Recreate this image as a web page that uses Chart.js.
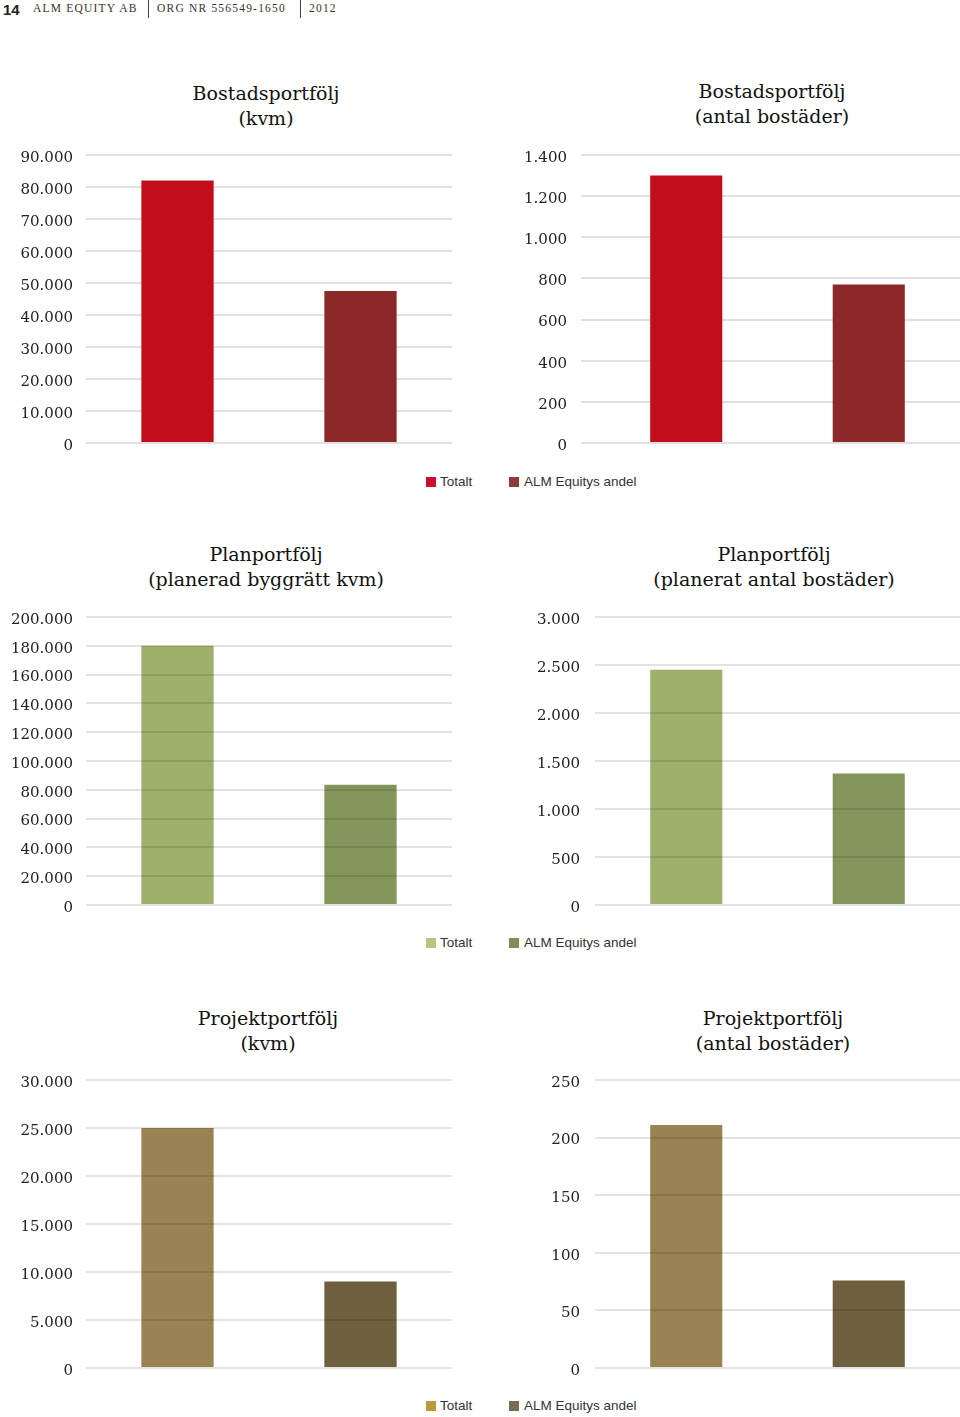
<!DOCTYPE html>
<html>
<head>
<meta charset="utf-8">
<script src="https://cdn.jsdelivr.net/npm/chart.js@4.4.1/dist/chart.umd.min.js"></script>
<style>
  body { margin: 0; background: #fff; }
  #page { position: relative; width: 960px; height: 1417px; overflow: hidden; background: #fff; }
  canvas { position: absolute; }
  .hdr { position: absolute; top: 1px; height: 19px; line-height: 19px; color: #333; white-space: nowrap; }
  .num { left: 3px; font: bold 15px 'Liberation Sans', Arial, sans-serif; color: #222; }
  .sc { top: 2px; font: 11.5px 'Liberation Serif', serif; letter-spacing: 1.2px; text-transform: uppercase; }
  .sep { position: absolute; top: 0; width: 1px; height: 18px; background: #444; }
  .title { position: absolute; width: 380px; text-align: center; font: 19px 'DejaVu Serif', serif; line-height: 25px; color: #111; }
  .legend { position: absolute; height: 16px; line-height: 16px; font: 13.5px 'Liberation Sans', Arial, sans-serif; color: #333; white-space: nowrap; }
  .legend span.box { position: absolute; top: 3px; width: 10px; height: 10px; }
  .legend span.txt { position: absolute; top: 0; }
</style>
</head>
<body>
<div id="page">
  <div class="hdr num">14</div>
  <div class="hdr sc" style="left:33px">Alm Equity AB</div>
  <div class="sep" style="left:148px"></div>
  <div class="hdr sc" style="left:157px">Org nr 556549-1650</div>
  <div class="sep" style="left:300px"></div>
  <div class="hdr sc" style="left:309px">2012</div>
</div>
<script>
// data
const categories = ['Totalt', 'ALM Equitys andel'];

const bostadKvm = [82000, 47500];
const bostadAntal = [1300, 770];
const planKvm = [180000, 83500];
const planAntal = [2450, 1370];
const projektKvm = [25000, 9000];
const projektAntal = [211, 76];

const titles = [
  ['Bostadsportfölj', '(kvm)'],
  ['Bostadsportfölj', '(antal bostäder)'],
  ['Planportfölj', '(planerad byggrätt kvm)'],
  ['Planportfölj', '(planerat antal bostäder)'],
  ['Projektportfölj', '(kvm)'],
  ['Projektportfölj', '(antal bostäder)']
];

const redBars = ['#C10E1A', '#8B2828'];
const greenBars = ['#9FB06B', '#84955B'];
const brownBars = ['#9A8352', '#6E603F'];
const redLegend = ['#C8102E', '#8E3B40'];
const greenLegend = ['#B6C583', '#7F8E58'];
const brownLegend = ['#B99A3D', '#7A6C54'];

const page = document.getElementById('page');

function fmt(v){
  return String(v).replace(/\B(?=(\d{3})+(?!\d))/g, '.');
}

function addTitle(lines, centerX, top){
  const d = document.createElement('div');
  d.className = 'title';
  d.style.left = (centerX - 190) + 'px';
  d.style.top = top + 'px';
  d.innerHTML = lines.join('<br>');
  page.appendChild(d);
}

function addLegend(colors, top){
  const d = document.createElement('div');
  d.className = 'legend';
  d.style.left = '0px';
  d.style.top = top + 'px';
  const xs = [[426, 440], [509, 524]];
  categories.forEach((c, i) => {
    d.innerHTML += '<span class="box" style="left:' + xs[i][0] + 'px;background:' + colors[i] + '"></span>' +
      '<span class="txt" style="left:' + xs[i][1] + 'px">' + c + '</span>';
  });
  page.appendChild(d);
}

// gridTop = y of the top gridline, plot is 288px high
function makeChart(values, colors, max, step, left, gridTop, gridOnTop, ticksOut){
  const pad = left ? 13 : (ticksOut ? 14 : 15);
  const off = 9 + pad;   // chart.js adds half label height + tick padding above/below
  const w = left ? 470 : 480;
  const ctx = document.createElement('canvas');
  ctx.width = w;
  ctx.height = 288 + off * 2;
  ctx.style.left = (left ? 0 : 480) + 'px';
  ctx.style.top = (gridTop - off) + 'px';
  page.appendChild(ctx);
  const axisW = left ? 86 : 115;
  new Chart(ctx, {
    type: 'bar',
    data: {
      labels: categories,
      datasets: [{
        data: values,
        backgroundColor: colors,
        borderWidth: 0,
        barPercentage: 0.395,
        categoryPercentage: 1
      }]
    },
    options: {
      responsive: false,
      animation: false,
      devicePixelRatio: 1,
      layout: { padding: { top: 0, bottom: 0, left: 0, right: left ? 18 : 0 } },
      plugins: { legend: { display: false }, tooltip: { enabled: false }, title: { display: false } },
      scales: {
        x: { display: false },
        y: {
          min: 0,
          max: max,
          afterFit: (scale) => { scale.width = axisW; },
          border: { display: false },
          grid: {
            color: gridOnTop ? 'rgba(0,0,0,0.11)' : '#e0e0e0',
            lineWidth: 2,
            z: gridOnTop ? 1 : 0,
            drawTicks: ticksOut,
            tickLength: 14
          },
          ticks: {
            stepSize: step,
            padding: pad,
            labelOffset: 3,
            color: '#222',
            font: { family: "'DejaVu Serif', serif", size: 15 },
            callback: (v) => fmt(v)
          }
        }
      }
    }
  });
}

addTitle(titles[0], 266, 81);
addTitle(titles[1], 772, 79);
addTitle(titles[2], 266, 542);
addTitle(titles[3], 774, 542);
addTitle(titles[4], 268, 1006);
addTitle(titles[5], 773, 1006);

makeChart(bostadKvm, redBars, 90000, 10000, true, 155, false, false);
makeChart(bostadAntal, redBars, 1400, 200, false, 155, false, true);
makeChart(planKvm, greenBars, 200000, 20000, true, 617, true, false);
makeChart(planAntal, greenBars, 3000, 500, false, 617, true, false);
makeChart(projektKvm, brownBars, 30000, 5000, true, 1080, true, false);
makeChart(projektAntal, brownBars, 250, 50, false, 1080, true, false);

addLegend(redLegend, 474);
addLegend(greenLegend, 935);
addLegend(brownLegend, 1398);
</script>
</body>
</html>
